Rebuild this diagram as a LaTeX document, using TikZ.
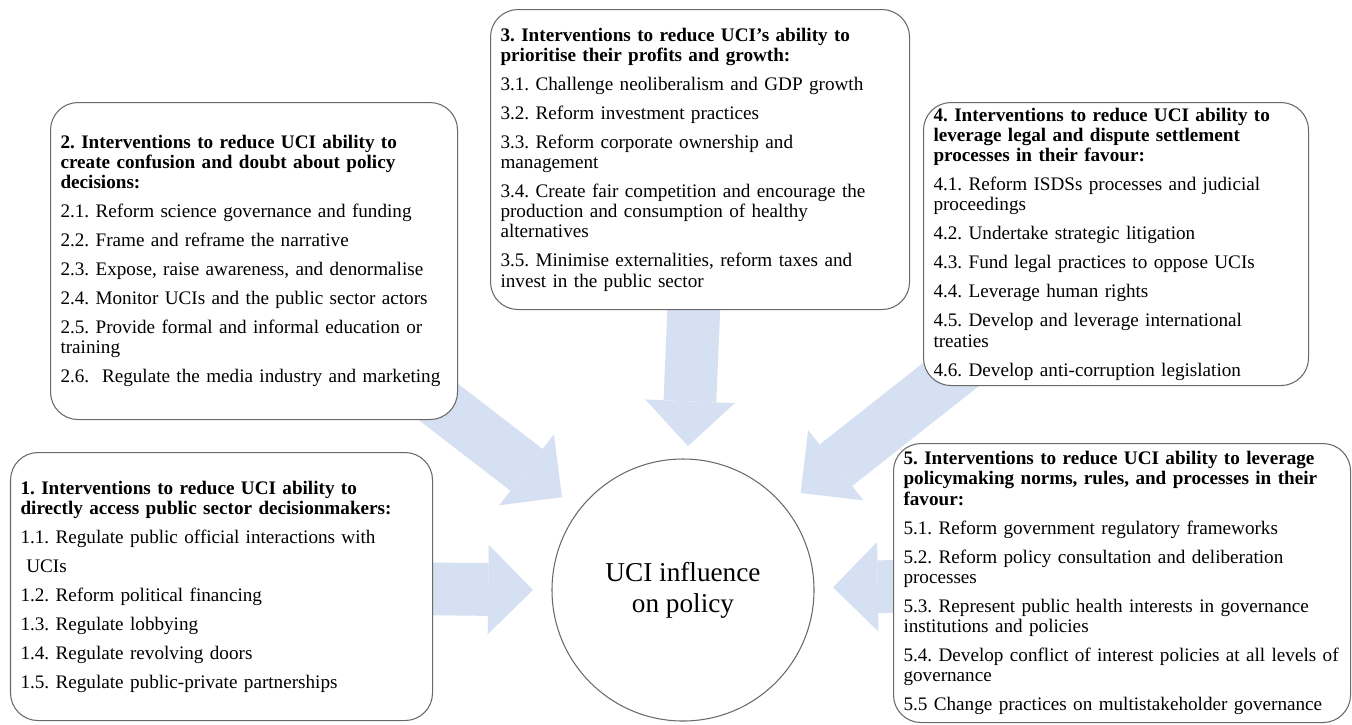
\documentclass[tikz,border=0pt]{standalone}
\usepackage{fontspec}
\setmainfont{Liberation Serif}
\usepackage{tikz}
\usetikzlibrary{positioning,calc,backgrounds,arrows.meta}
\definecolor{uline}{RGB}{105,105,105}
\definecolor{ublue}{RGB}{213,225,242}
\newcommand{\nxt}{\\[5pt]}
\tikzset{
	every node/.style = { align = left },
	grp/.style = { rectangle, rounded corners=0.55cm, draw=uline, fill=white, line width=0.6pt, anchor=north west,
		inner xsep=0.2cm, inner ysep=0pt, text width=#1, font=\fontsize{10.9}{11.5}\selectfont\frenchspacing },
	core/.style = { circle, draw=uline, line width=0.6pt, minimum size=5.24cm, align=center,
		font=\fontsize{15.5}{17.6}\selectfont },
	flow/.style = { draw=ublue, line width=30pt, shorten <=-2cm,
		-{Triangle[length=25.5pt 0 0, width=51pt 0 0, line width=0pt 0 0, fill=ublue]} },
}

\begin{document}
\begin{tikzpicture}
\useasboundingbox (0,0) rectangle (27.04,-14.48);

\node (uci) [core] at (13.66,-11.8) {UCI influence\\on policy};

\node (acc)  [grp=8.04cm,minimum height=5.36cm] at (0.2,-9.04) {
	\textbf{1. Interventions to reduce UCI ability to\\directly access public sector decisionmakers:}\nxt
	1.1. Regulate public official interactions with\nxt
	\hspace*{0.3em}UCIs\nxt
	1.2. Reform political financing\nxt
	1.3. Regulate lobbying\nxt
	1.4. Regulate revolving doors\nxt
	1.5. Regulate public-private partnerships};

\node (conf) [grp=7.74cm,minimum height=6.34cm] at (1.0,-2.04) {
	\textbf{2. Interventions to reduce UCI ability to\\create confusion and doubt about policy\\decisions:}\nxt
	2.1. Reform science governance and funding\nxt
	2.2. Frame and reframe the narrative\nxt
	2.3. Expose, raise awareness, and denormalise\nxt
	2.4. Monitor UCIs and the public sector actors\nxt
	2.5. Provide formal and informal education or\\training\nxt
	2.6.\ \ Regulate the media industry and marketing};

\node (prof) [grp=7.98cm,minimum height=6.0cm] at (9.8,-0.18) {
	\textbf{3. Interventions to reduce UCI’s ability to\\prioritise their profits and growth:}\nxt
	3.1. Challenge neoliberalism and GDP growth\nxt
	3.2. Reform investment practices\nxt
	3.3. Reform corporate ownership and\\management\nxt
	3.4. Create fair competition and encourage the\\production and consumption of healthy\\alternatives\nxt
	3.5. Minimise externalities, reform taxes and\\invest in the public sector};

\node (legal) [grp=7.3cm,minimum height=5.66cm] at (18.46,-2.04) {
	\textbf{4. Interventions to reduce UCI ability to\\leverage legal and dispute settlement\\processes in their favour:}\nxt
	4.1. Reform ISDSs processes and judicial\\proceedings\nxt
	4.2. Undertake strategic litigation\nxt
	4.3. Fund legal practices to oppose UCIs\nxt
	4.4. Leverage human rights\nxt
	4.5. Develop and leverage international\\treaties\nxt
	4.6. Develop anti-corruption legislation};

\node (norm) [grp=8.74cm,minimum height=5.58cm] at (17.86,-8.86) {
	\textbf{5. Interventions to reduce UCI ability to leverage\\policymaking norms, rules, and processes in their\\favour:}\nxt
	5.1. Reform government regulatory frameworks\nxt
	5.2. Reform policy consultation and deliberation\\processes\nxt
	5.3. Represent public health interests in governance\\institutions and policies\nxt
	5.4.~Develop~conflict~of~interest~policies~at~all~levels~of\\governance\nxt
	5.5 Change practices on multistakeholder governance};

% arrow tips round the circle
\coordinate (t1) at ($(uci.center)+(180:3cm)$);
\coordinate (t2) at ($(uci.center)+(142.5:3.05cm)$);
\coordinate (t3) at ($(uci.center)+(88:2.88cm)$);
\coordinate (t4) at ($(uci.center)+(39.5:3.05cm)$);
\coordinate (t5) at ($(uci.center)+(1:3cm)$);

\begin{scope}[on background layer]
\draw[flow] (acc)   -- (t1);
\draw[flow] (conf)  -- (t2);
\draw[flow] (prof)  -- (t3);
\draw[flow] (legal) -- (t4);
\draw[flow] (norm)  -- (t5);
\end{scope}

\end{tikzpicture}
\end{document}
